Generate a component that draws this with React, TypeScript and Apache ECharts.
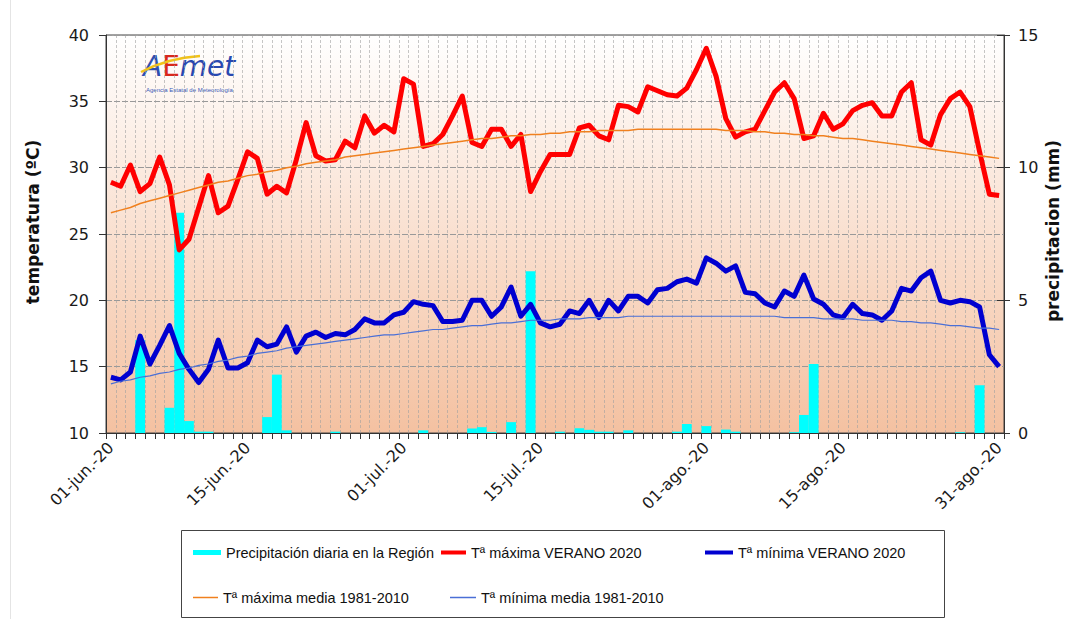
import React, { useEffect, useRef } from "react";
import * as echarts from "echarts";

const months: [string, number][] = [["jun", 30], ["jul", 31], ["ago", 31]];
const categories: string[] = [];
months.forEach(([m, n]) => {
  for (let d = 1; d <= n; d++) categories.push(`${String(d).padStart(2, "0")}-${m}.-20`);
});

const labelDays = [0, 14, 30, 44, 61, 75, 91];

const tempTicks = { min: 10, max: 40, step: 5 };
const precTicks = { min: 0, max: 15, step: 5 };

const tmax2020 = [
  28.9, 28.6, 30.2, 28.2, 28.8, 30.8, 28.7, 23.8, 24.6, 27.0,
  29.4, 26.6, 27.1, 29.1, 31.2, 30.7, 28.0, 28.6, 28.1, 30.6,
  33.4, 30.9, 30.5, 30.6, 32.0, 31.5, 33.9, 32.6, 33.2, 32.7,
  36.7, 36.3, 31.6, 31.8, 32.5, 33.9, 35.4, 31.9, 31.6, 32.9,
  32.9, 31.6, 32.5, 28.2, 29.7, 31.0, 31.0, 31.0, 33.0, 33.2,
  32.4, 32.1, 34.7, 34.6, 34.2, 36.1, 35.8, 35.5, 35.4, 36.0,
  37.4, 39.0, 36.9, 33.7, 32.3, 32.7, 32.9, 34.3, 35.7, 36.4,
  35.2, 32.2, 32.4, 34.1, 32.9, 33.3, 34.3, 34.7, 34.9, 33.9,
  33.9, 35.7, 36.4, 32.1, 31.7, 34.0, 35.2, 35.7, 34.6, 31.2,
  28.0, 27.9,
];

const tmin2020 = [
  14.2, 14.0, 14.6, 17.3, 15.2, 16.6, 18.1, 16.0, 14.8, 13.8,
  14.8, 17.0, 14.9, 14.9, 15.3, 17.0, 16.5, 16.7, 18.0, 16.1,
  17.3, 17.6, 17.2, 17.5, 17.4, 17.8, 18.6, 18.3, 18.3, 18.9,
  19.1, 19.9, 19.7, 19.6, 18.4, 18.4, 18.5, 20.0, 20.0, 18.8,
  19.5, 21.0, 18.8, 19.7, 18.3, 18.0, 18.2, 19.2, 19.0, 20.0,
  18.7, 20.0, 19.2, 20.3, 20.3, 19.8, 20.8, 20.9, 21.4, 21.6,
  21.3, 23.2, 22.8, 22.2, 22.6, 20.6, 20.5, 19.8, 19.5, 20.7,
  20.3, 21.9, 20.1, 19.7, 18.9, 18.7, 19.7, 19.0, 18.9, 18.5,
  19.2, 20.9, 20.7, 21.7, 22.2, 20.0, 19.8, 20.0, 19.9, 19.5,
  15.9, 15.0,
];

const tmaxMedia = [
  26.6, 26.8, 27.0, 27.3, 27.5, 27.7, 27.9, 28.1, 28.3, 28.5,
  28.7, 28.9, 29.0, 29.2, 29.4, 29.5, 29.7, 29.8, 30.0, 30.1,
  30.3, 30.4, 30.5, 30.6, 30.8, 30.9, 31.0, 31.1, 31.2, 31.3,
  31.4, 31.5, 31.6, 31.7, 31.8, 31.9, 32.0, 32.1, 32.2, 32.2,
  32.3, 32.4, 32.4, 32.5, 32.5, 32.6, 32.6, 32.7, 32.7, 32.7,
  32.8, 32.8, 32.8, 32.8, 32.9, 32.9, 32.9, 32.9, 32.9, 32.9,
  32.9, 32.9, 32.9, 32.8, 32.8, 32.8, 32.7, 32.7, 32.6, 32.6,
  32.5, 32.5, 32.4, 32.4, 32.3, 32.2, 32.2, 32.1, 32.0, 31.9,
  31.8, 31.7, 31.6, 31.5, 31.4, 31.3, 31.2, 31.1, 31.0, 30.9,
  30.8, 30.7,
];

const tminMedia = [
  13.7, 13.9, 14.0, 14.2, 14.3, 14.5, 14.6, 14.8, 14.9, 15.1,
  15.2, 15.4, 15.5, 15.7, 15.8, 16.0, 16.1, 16.2, 16.4, 16.5,
  16.6, 16.7, 16.8, 16.9, 17.0, 17.1, 17.2, 17.3, 17.4, 17.4,
  17.5, 17.6, 17.7, 17.8, 17.8, 17.9, 18.0, 18.1, 18.1, 18.2,
  18.3, 18.3, 18.4, 18.5, 18.5, 18.5, 18.6, 18.6, 18.6, 18.7,
  18.7, 18.7, 18.7, 18.8, 18.8, 18.8, 18.8, 18.8, 18.8, 18.8,
  18.8, 18.8, 18.8, 18.8, 18.8, 18.8, 18.8, 18.8, 18.8, 18.7,
  18.7, 18.7, 18.7, 18.6, 18.6, 18.6, 18.6, 18.5, 18.5, 18.5,
  18.5, 18.4, 18.4, 18.3, 18.3, 18.2, 18.1, 18.1, 18.0, 17.9,
  17.9, 17.8,
];

const precip = [
  0, 0, 0, 3.5, 0, 0, 0.95, 8.3, 0.45, 0.05,
  0.05, 0, 0, 0, 0, 0, 0.6, 2.2, 0.1, 0,
  0, 0, 0, 0.05, 0, 0, 0, 0, 0, 0,
  0, 0, 0.1, 0, 0, 0, 0, 0.17, 0.22, 0.04,
  0, 0.41, 0, 6.1, 0, 0, 0.05, 0, 0.18, 0.12,
  0.05, 0.05, 0, 0.1, 0, 0, 0, 0, 0.05, 0.34,
  0, 0.26, 0, 0.13, 0.05, 0, 0, 0, 0, 0,
  0.03, 0.68, 2.6, 0, 0, 0, 0, 0, 0, 0,
  0, 0, 0, 0, 0, 0, 0, 0.03, 0, 1.8,
  0, 0,
];

const names = {
  prec: "Precipitación diaria en la Región",
  tmax: "Tª máxima VERANO 2020",
  tmin: "Tª mínima VERANO 2020",
  tmaxM: "Tª máxima media 1981-2010",
  tminM: "Tª mínima media 1981-2010",
};

export default function App() {
  const ref = useRef<HTMLDivElement>(null);
  useEffect(() => {
    document.body.style.margin = "0";
    const chart = echarts.init(ref.current!, null, { renderer: "svg" });
    const axisFont = "'DejaVu Sans', sans-serif";
    const legendFont = "'Liberation Sans', Arial, sans-serif";
    const legendBase: any = {
      orient: "horizontal",
      padding: 0,
      itemGap: 0,
      icon: "rect",
      selectedMode: false,
      textStyle: { fontFamily: legendFont, fontSize: 14.5, color: "#111" },
    };
    chart.setOption({
      animation: false,
      backgroundColor: "#ffffff",
      grid: {
        left: 106,
        right: 72,
        top: 35,
        bottom: 186,
        show: true,
        backgroundColor: new echarts.graphic.LinearGradient(0, 0, 0, 1, [
          { offset: 0, color: "#ffffff" },
          { offset: 1, color: "#f4c1a1" },
        ]),
        borderColor: "#444",
        borderWidth: 1,
      },
      xAxis: {
        type: "category",
        data: categories,
        boundaryGap: true,
        axisLine: { lineStyle: { color: "#333", width: 1 } },
        axisTick: { show: true, interval: 0, length: 6, lineStyle: { color: "#333" } },
        axisLabel: {
          interval: (i: number) => labelDays.includes(i),
          rotate: 45,
          margin: 12,
          fontSize: 16,
          fontFamily: axisFont,
          color: "#1a1a1a",
        },
        splitLine: { show: true, interval: 0, lineStyle: { color: "#a0a0a0", type: [3, 2], width: 1, opacity: 0.6 } },
      },
      yAxis: [
        {
          type: "value",
          min: tempTicks.min,
          max: tempTicks.max,
          interval: tempTicks.step,
          position: "left",
          axisLine: { show: true, lineStyle: { color: "#333" } },
          axisTick: { show: true, length: 7, lineStyle: { color: "#333" } },
          axisLabel: { margin: 17, fontSize: 16, fontFamily: axisFont, color: "#1a1a1a" },
          splitLine: { show: true, lineStyle: { color: "#999", type: [6, 2], width: 1 } },
        },
        {
          type: "value",
          min: precTicks.min,
          max: precTicks.max,
          interval: precTicks.step,
          position: "right",
          axisLine: { show: true, lineStyle: { color: "#333" } },
          axisTick: { show: true, length: 6, lineStyle: { color: "#333" } },
          axisLabel: { margin: 14, fontSize: 16, fontFamily: axisFont, color: "#1a1a1a" },
          splitLine: { show: false },
        },
        {
          type: "value",
          min: precTicks.min,
          max: precTicks.max,
          interval: precTicks.step,
          position: "right",
          axisLine: { show: false },
          axisTick: { show: true, inside: true, length: 7, lineStyle: { color: "#333" } },
          axisLabel: { show: false },
          splitLine: { show: false },
        },
      ],
      legend: [
        { ...legendBase, data: [names.prec], left: 193, top: 545, itemWidth: 28, itemHeight: 5 },
        { ...legendBase, data: [names.tmax], left: 441, top: 545, itemWidth: 25, itemHeight: 4 },
        { ...legendBase, data: [names.tmin], left: 705, top: 545, itemWidth: 28, itemHeight: 4 },
        { ...legendBase, data: [names.tmaxM], left: 193, top: 590, itemWidth: 25, itemHeight: 1.5 },
        { ...legendBase, data: [names.tminM], left: 450, top: 590, itemWidth: 26, itemHeight: 1.5 },
      ],
      graphic: [
        { type: "line", z: 0, shape: { x1: 10.5, y1: 0, x2: 10.5, y2: 619 }, style: { stroke: "#e4e4e4", lineWidth: 1 } },
        {
          type: "rect",
          z: 1,
          shape: { x: 181.5, y: 530.5, width: 763, height: 87 },
          style: { fill: "#ffffff", stroke: "#444", lineWidth: 1 },
        },
        {
          type: "text",
          x: 33,
          y: 222,
          rotation: Math.PI / 2,
          style: {
            text: "temperatura (ºC)",
            fontFamily: axisFont,
            fontWeight: "bold",
            fontSize: 17,
            align: "center",
            verticalAlign: "middle",
            fill: "#111",
          },
        },
        {
          type: "text",
          x: 1053,
          y: 231,
          rotation: Math.PI / 2,
          style: {
            text: "precipitacion (mm)",
            fontFamily: axisFont,
            fontWeight: "bold",
            fontSize: 17,
            align: "center",
            verticalAlign: "middle",
            fill: "#111",
          },
        },
        {
          type: "group",
          z: 10,
          children: [
            {
              type: "text",
              x: 143,
              y: 66,
              style: {
                text: "{a|A}{e|E}{m|met}",
                verticalAlign: "middle",
                rich: {
                  a: { fontFamily: axisFont, fontStyle: "italic", fontSize: 28, fill: "#2e4fb0", fontWeight: "normal" },
                  e: { fontFamily: axisFont, fontSize: 28, fill: "#d8281c" },
                  m: { fontFamily: axisFont, fontStyle: "italic", fontSize: 28, fill: "#2848b0" },
                },
              },
            },
            {
              type: "bezierCurve",
              shape: { x1: 141, y1: 72, cpx1: 168, cpy1: 58, x2: 200, y2: 56 },
              style: { stroke: "#f2c318", lineWidth: 2.5, fill: "none" },
            },
            {
              type: "text",
              x: 146,
              y: 90,
              style: {
                text: "Agencia Estatal de Meteorología",
                fontFamily: legendFont,
                fontSize: 6,
                fill: "#3a5ab8",
                verticalAlign: "middle",
              },
            },
          ],
        },
      ],
      series: [
        {
          type: "bar",
          name: names.prec,
          yAxisIndex: 1,
          data: precip,
          barCategoryGap: "0%",
          barGap: "0%",
          itemStyle: { color: "#00ffff" },
          z: 1,
        },
        {
          type: "line",
          name: names.tmax,
          data: tmax2020,
          symbol: "none",
          lineStyle: { color: "#ff0000", width: 5, join: "round" },
          itemStyle: { color: "#ff0000" },
          z: 3,
        },
        {
          type: "line",
          name: names.tmin,
          data: tmin2020,
          symbol: "none",
          lineStyle: { color: "#0000d0", width: 5, join: "round" },
          itemStyle: { color: "#0000d0" },
          z: 3,
        },
        {
          type: "line",
          name: names.tmaxM,
          data: tmaxMedia,
          symbol: "none",
          lineStyle: { color: "#f0801e", width: 1.5 },
          itemStyle: { color: "#f0801e" },
          z: 4,
        },
        {
          type: "line",
          name: names.tminM,
          data: tminMedia,
          symbol: "none",
          lineStyle: { color: "#4a6fd6", width: 1.2 },
          itemStyle: { color: "#4a6fd6" },
          z: 4,
        },
      ],
    });
    return () => chart.dispose();
  }, []);
  return <div ref={ref} style={{ width: 1076, height: 619 }} />;
}
